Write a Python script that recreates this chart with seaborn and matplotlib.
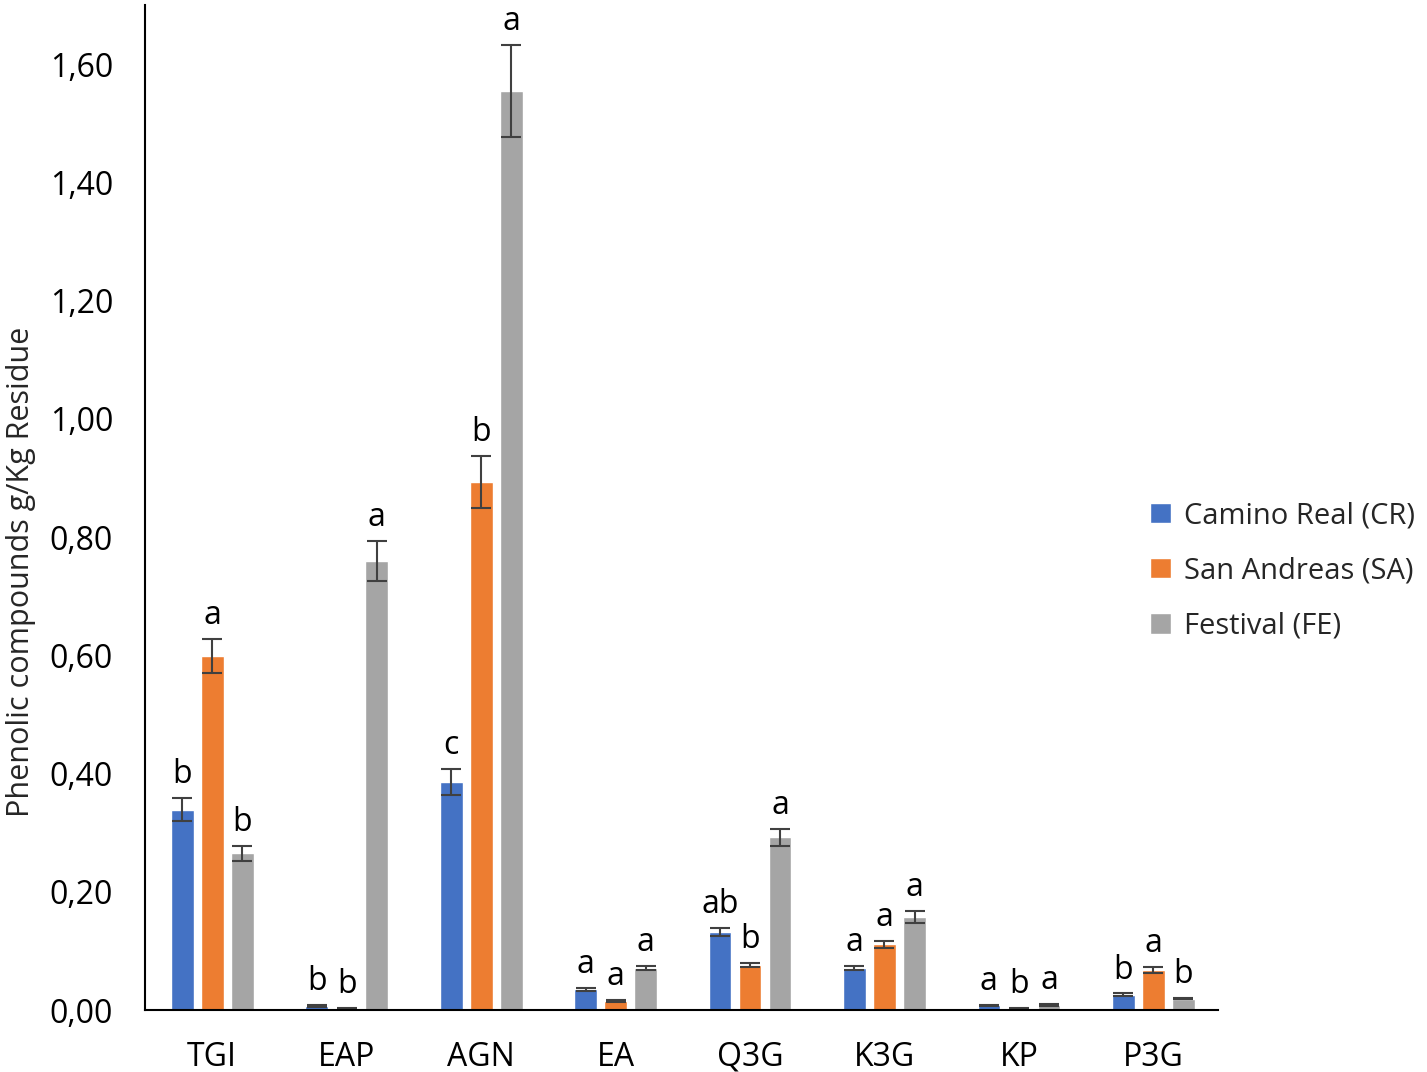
import pandas as pd
import matplotlib.pyplot as plt
import seaborn as sns
from matplotlib.ticker import FuncFormatter

compounds = ['TGI', 'EAP', 'AGN', 'EA', 'Q3G', 'K3G', 'KP', 'P3G']
varieties = ['Camino Real (CR)', 'San Andreas (SA)', 'Festival (FE)']

# mean values (g/Kg residue)
crMeans = [0.339, 0.007, 0.385, 0.035, 0.132, 0.071, 0.008, 0.026]
saMeans = [0.599, 0.002, 0.893, 0.015, 0.076, 0.111, 0.003, 0.068]
feMeans = [0.265, 0.760, 1.554, 0.071, 0.292, 0.157, 0.009, 0.019]

# standard deviations
crErr = [0.020, 0.002, 0.022, 0.002, 0.007, 0.004, 0.001, 0.002]
saErr = [0.029, 0.001, 0.044, 0.002, 0.003, 0.006, 0.001, 0.005]
feErr = [0.013, 0.034, 0.078, 0.004, 0.014, 0.010, 0.002, 0.001]

# significance letters
crLetters = ['b', 'b', 'c', 'a', 'ab', 'a', 'a', 'b']
saLetters = ['a', 'b', 'b', 'a', 'b', 'a', 'b', 'a']
feLetters = ['b', 'a', 'a', 'a', 'a', 'a', 'a', 'b']

colors = ['#4472C4', '#ED7D31', '#A5A5A5']

rows = []
for variety, means in zip(varieties, [crMeans, saMeans, feMeans]):
    for comp, val in zip(compounds, means):
        rows.append({'Compound': comp, 'Variety': variety, 'Value': val})
df = pd.DataFrame(rows)

sns.set_style('white')
plt.rcParams['font.family'] = ['Open Sans', 'DejaVu Sans']

fig = plt.figure(figsize=(14.27, 10.72), dpi=100)
ax = fig.add_axes([0.1016, 0.0578, 0.7519, 0.9375])

sns.barplot(data=df, x='Compound', y='Value', hue='Variety', order=compounds,
            hue_order=varieties, palette=colors, width=0.67, gap=0.24,
            errorbar=None, saturation=1, ax=ax)

errGroups = [crErr, saErr, feErr]
letterGroups = [crLetters, saLetters, feLetters]
for container, errs, letters in zip(ax.containers, errGroups, letterGroups):
    xs = [b.get_x() + b.get_width() / 2 for b in container]
    hs = [b.get_height() for b in container]
    ax.errorbar(xs, hs, yerr=errs, fmt='none', ecolor='#404040',
                elinewidth=1.5, capsize=7, capthick=1.5)
    for x, h, e, lab in zip(xs, hs, errs, letters):
        ax.annotate(lab, (x, h + e), xytext=(0, 5), textcoords='offset points',
                    ha='center', va='bottom', fontsize=23, color='black')

ax.set_xlim(-0.5, 7.48)
ax.set_ylim(0, 1.70)
ax.set_yticks([0, 0.2, 0.4, 0.6, 0.8, 1.0, 1.2, 1.4, 1.6])
ax.yaxis.set_major_formatter(FuncFormatter(lambda v, p: f'{v:.2f}'.replace('.', ',')))
ax.tick_params(axis='both', length=0, labelsize=23, colors='black')
ax.tick_params(axis='y', pad=23)
ax.tick_params(axis='x', pad=22)
ax.set_xlabel('')
ax.set_ylabel('Phenolic compounds g/Kg Residue', fontsize=22)
ax.yaxis.set_label_coords(-0.102, 0.436)

for side in ['top', 'right']:
    ax.spines[side].set_visible(False)
for side in ['left', 'bottom']:
    ax.spines[side].set_color('black')
    ax.spines[side].set_linewidth(1.5)

sns.move_legend(ax, 'center left', bbox_to_anchor=(0.937, 0.437), frameon=False,
                title=None, fontsize=21, handlelength=0.7, handleheight=0.7,
                labelspacing=0.9, handletextpad=0.45, borderpad=0,
                borderaxespad=0)

fig.savefig('out.png', dpi=100)
